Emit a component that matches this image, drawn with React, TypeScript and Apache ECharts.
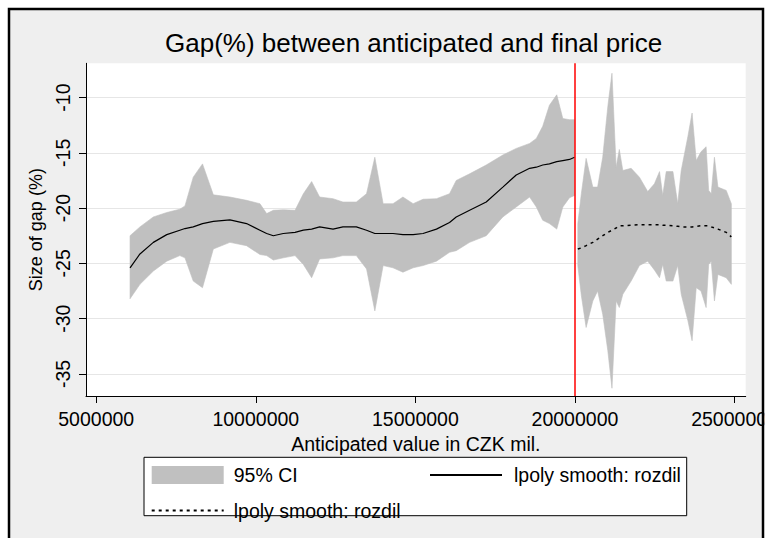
import React, { useEffect, useRef } from 'react';
import * as echarts from 'echarts';

const TITLE = 'Gap(%) between anticipated and final price';
const X_NAME = 'Anticipated value in CZK mil.';
const Y_NAME = 'Size of gap (%)';
const X_TICKS = [5000000, 10000000, 15000000, 20000000, 25000000];
const Y_TICKS = [-35, -30, -25, -20, -15, -10];
const CUTOFF = 20000000;

// Left of the cutoff: CI band and solid lpoly fit
const LEFT_X = [6060000, 6370000, 6790000, 7210000, 7620000, 7780000, 8040000, 8330000, 8670000, 9190000,
  9710000, 10130000, 10340000, 10550000, 10860000, 11230000, 11490000, 11750000, 12000000, 12420000,
  12730000, 13150000, 13470000, 13730000, 13990000, 14300000, 14610000, 14930000, 15240000, 15660000,
  16070000, 16280000, 16700000, 17220000, 17740000, 18160000, 18580000, 18790000, 18990000, 19200000,
  19430000, 19620000, 19830000, 19990000];
const LEFT_UPPER = [-22.5, -21.7, -20.8, -20.4, -20.1, -19.8, -17.2, -16.0, -18.8, -19.0,
  -19.3, -19.6, -20.5, -20.2, -20.15, -20.2, -18.7, -17.6, -19.0, -19.15,
  -19.45, -19.45, -18.7, -15.4, -19.6, -19.6, -19.0, -19.6, -19.2, -19.15,
  -18.7, -17.5, -16.9, -16.1, -15.2, -14.6, -14.15, -13.7, -12.6, -10.7,
  -9.75, -11.9, -12.0, -12.0];
const LEFT_LOWER = [-28.2, -26.9, -25.7, -24.8, -24.3, -24.5, -26.6, -27.2, -23.7, -23.1,
  -23.4, -24.2, -24.3, -24.7, -24.5, -24.3, -25.1, -26.3, -24.6, -24.5,
  -24.3, -24.3, -25.5, -29.3, -25.2, -25.4, -25.8, -25.4, -25.2, -24.8,
  -24.0, -23.85, -23.1, -22.5, -20.8, -19.9, -19.0, -19.9, -21.1, -21.4,
  -21.9, -19.9, -19.06, -18.85];
const LEFT_FIT = [-25.4, -24.15, -23.1, -22.4, -22.0, -21.85, -21.7, -21.4, -21.2, -21.06,
  -21.4, -22.0, -22.3, -22.5, -22.3, -22.2, -22.0, -21.9, -21.7, -21.9,
  -21.7, -21.7, -22.0, -22.3, -22.3, -22.3, -22.4, -22.4, -22.3, -21.9,
  -21.3, -20.8, -20.2, -19.45, -18.1, -17.0, -16.4, -16.3, -16.1, -16.0,
  -15.8, -15.7, -15.6, -15.4];

// Right of the cutoff: CI band and dotted lpoly fit
const RIGHT_X = [20090000, 20200000, 20350000, 20560000, 20710000, 20870000, 21030000, 21160000, 21290000, 21390000,
  21500000, 21760000, 22020000, 22280000, 22490000, 22650000, 22750000, 22860000, 23070000, 23220000,
  23330000, 23540000, 23670000, 23800000, 23950000, 24110000, 24190000, 24270000, 24370000, 24480000,
  24740000, 24900000];
const RIGHT_UPPER = [-21.4, -18.7, -15.5, -18.1, -18.1, -15.4, -10.8, -7.8, -16.3, -14.7,
  -16.6, -16.4, -17.2, -18.5, -17.8, -16.7, -18.85, -16.7, -16.7, -19.6,
  -16.6, -13.5, -11.4, -15.7, -14.9, -14.45, -18.4, -18.7, -15.4, -18.1,
  -18.4, -19.6];
const RIGHT_LOWER = [-25.2, -27.9, -30.8, -28.4, -27.5, -29.6, -32.9, -36.3, -28.4, -29.0,
  -27.8, -26.6, -25.2, -24.8, -25.6, -26.3, -25.1, -26.6, -26.6, -25.2,
  -27.8, -30.2, -32.0, -27.2, -27.5, -29.0, -25.1, -24.8, -28.4, -26.0,
  -26.3, -26.9];
const RIGHT_FIT = [-23.7, -23.6, -23.4, -23.1, -22.8, -22.5, -22.2, -22.0, -21.8, -21.6,
  -21.6, -21.55, -21.5, -21.5, -21.5, -21.5, -21.55, -21.55, -21.6, -21.65,
  -21.7, -21.7, -21.7, -21.65, -21.6, -21.6, -21.6, -21.7, -21.8, -21.9,
  -22.2, -22.6];

const FONT = '"Liberation Sans", Arial, Helvetica, sans-serif';
const BAND = '#c0c0c0';

const zip = (xs: number[], ys: number[]) => xs.map((x, i) => [x, ys[i]]);

function bandSeries(xs: number[], up: number[], lo: number[]) {
  return {
    name: '95% CI',
    type: 'custom',
    data: xs.map((x, i) => [x, lo[i], up[i]]),
    encode: { x: 0, y: [1, 2] },
    itemStyle: { color: BAND },
    silent: true,
    clip: true,
    z: 2,
    renderItem: (params: any, api: any) => {
      if (params.dataIndex !== 0) return null;
      const top = xs.map((x, i) => api.coord([x, up[i]]));
      const bottom = xs.map((x, i) => api.coord([x, lo[i]])).reverse();
      return {
        type: 'polygon',
        shape: { points: top.concat(bottom) },
        style: { fill: BAND, stroke: BAND, lineWidth: 0.6 },
      };
    },
  };
}

export default function App() {
  const ref = useRef<HTMLDivElement>(null);
  useEffect(() => {
    if (!ref.current) return;
    const chart = echarts.init(ref.current, null, { renderer: 'svg' });
    chart.setOption({
      animation: false,
      backgroundColor: '#ffffff',
      title: {
        text: TITLE, left: 160, top: 25,
        textStyle: { fontSize: 26, fontWeight: 'normal', color: '#000', fontFamily: FONT },
      },
      grid: { left: 86, right: 23.3, top: 63.3, bottom: 142, show: true, backgroundColor: '#ffffff', borderWidth: 0, containLabel: false, outerBoundsMode: 'none' },
      xAxis: {
        type: 'value', min: 4680000, max: 25350000,
        axisLine: { show: true, onZero: false, lineStyle: { color: '#000', width: 1 } },
        axisTick: { show: true, length: 7, customValues: X_TICKS, lineStyle: { color: '#000', width: 1 } },
        axisLabel: { customValues: X_TICKS, margin: 13, fontSize: 19.5, color: '#000', fontFamily: FONT, formatter: (v: number) => String(Math.round(v)) },
        splitLine: { show: false },
        name: X_NAME, nameLocation: 'middle', nameGap: 24,
        nameTextStyle: { fontSize: 19.5, color: '#000', fontFamily: FONT },
      },
      yAxis: {
        type: 'value', min: -37, max: -6.9,
        axisLine: { show: true, onZero: false, lineStyle: { color: '#000', width: 1 } },
        axisTick: { show: true, length: 7, customValues: Y_TICKS, lineStyle: { color: '#000', width: 1 } },
        axisLabel: { customValues: Y_TICKS, rotate: 90, margin: 13, fontSize: 19.5, color: '#000', fontFamily: FONT },
        splitLine: { show: true, lineStyle: { color: '#e6e6e6', width: 1.2 } },
        name: Y_NAME, nameLocation: 'middle', nameGap: 38, nameRotate: 90,
        nameTextStyle: { fontSize: 18, color: '#000', fontFamily: FONT },
      },
      legend: [
        {
          left: 145.7, top: 460, orient: 'vertical', itemWidth: 72, itemHeight: 18, itemGap: 15.5,
          selectedMode: false, formatter: (n: string) => n.trim(),
          textStyle: { fontSize: 19.5, color: '#000', fontFamily: FONT, padding: [0, 0, 0, 5] },
          data: [
            { name: '95% CI', icon: 'rect', itemStyle: { color: BAND, borderWidth: 0, opacity: 1 } },
            { name: 'lpoly smooth: rozdil ', itemStyle: { opacity: 0 } },
          ],
        },
        {
          left: 424, top: 460, orient: 'horizontal', itemWidth: 72, itemHeight: 18,
          selectedMode: false,
          textStyle: { fontSize: 19.5, color: '#000', fontFamily: FONT, padding: [0, 0, 0, 7] },
          data: [{ name: 'lpoly smooth: rozdil', itemStyle: { opacity: 0 } }],
        },
      ],
      graphic: [
        { type: 'rect', silent: true, z: -10, shape: { x: 9, y: 9, width: 754, height: 560 }, style: { fill: '#efefef' } },
        { type: 'rect', silent: true, z: 1, shape: { x: 144, y: 457.3, width: 542.7, height: 58.4 }, style: { fill: '#ffffff', stroke: '#000', lineWidth: 1 } },
        { type: 'rect', silent: true, z: 99, shape: { x: 764.25, y: 0, width: 10, height: 538 }, style: { fill: '#ffffff' } },
        { type: 'rect', silent: true, z: 100, shape: { x: 9, y: 9, width: 754, height: 560 }, style: { fill: 'none', stroke: '#000', lineWidth: 2.5 } },
      ],
      series: [
        bandSeries(LEFT_X, LEFT_UPPER, LEFT_LOWER),
        bandSeries(RIGHT_X, RIGHT_UPPER, RIGHT_LOWER),
        {
          name: 'lpoly smooth: rozdil', type: 'line', data: zip(LEFT_X, LEFT_FIT), symbol: 'none',
          color: '#000', lineStyle: { color: '#000', width: 1.2 }, z: 3, silent: true,
          markLine: {
            silent: true, symbol: ['none', 'none'], label: { show: false },
            lineStyle: { color: '#ff0000', width: 1.5, type: 'solid' },
            data: [{ xAxis: CUTOFF }],
          },
        },
        {
          name: 'lpoly smooth: rozdil ', type: 'line', data: zip(RIGHT_X, RIGHT_FIT), symbol: 'none',
          color: '#000', lineStyle: { color: '#000', width: 1.5, type: [3, 4] }, z: 3, silent: true,
        },
      ],
    } as any);
    return () => chart.dispose();
  }, []);
  return <div ref={ref} style={{ position: 'absolute', left: 0, top: 0, width: 769, height: 538 }} />;
}
